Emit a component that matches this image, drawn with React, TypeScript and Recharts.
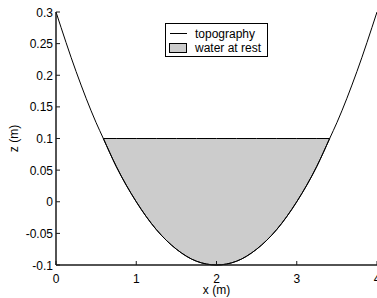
import { ComposedChart, Area, Line, XAxis, YAxis, Legend, Label } from "recharts";

// x positions (m) and bed elevation
const xs = [0, 0.25, 0.5, 0.59, 0.75, 1, 1.25, 1.5, 1.75, 2, 2.25, 2.5, 2.75, 3, 3.25, 3.41, 3.5, 3.75, 4];
const topography = [0.3, 0.206, 0.125, 0.1, 0.056, 0, -0.044, -0.075, -0.094, -0.1, -0.094, -0.075, -0.044, 0, 0.056, 0.1, 0.125, 0.206, 0.3];
const waterLevel = 0.1;
const waterFrom = 0.59;
const waterTo = 3.41;

const xTicks = [0, 1, 2, 3, 4];
const yTicks = [-0.1, -0.05, 0, 0.05, 0.1, 0.15, 0.2, 0.25, 0.3];
const legendItems = ["topography", "water at rest"];

const data = xs.map((x, i) => ({
  x,
  topo: topography[i],
  water: x >= waterFrom && x <= waterTo ? [topography[i], waterLevel] : null,
}));

const FONT = "'Liberation Sans', Arial, Helvetica, sans-serif";
const AXIS = "#1a1a1a";

const BottomTick = ({ x, y, payload }: any) => (
  <g>
    <line x1={x} y1={y} x2={x} y2={y - 4} stroke={AXIS} />
    <text x={x} y={y + 18} textAnchor="middle" fontSize={12} fontFamily={FONT} fill="#000">{payload.value}</text>
  </g>
);
const TopTick = ({ x, y }: any) => <line x1={x} y1={y} x2={x} y2={y + 4} stroke={AXIS} />;
const LeftTick = ({ x, y, payload }: any) => (
  <g>
    <line x1={x} y1={y} x2={x + 4} y2={y} stroke={AXIS} />
    <text x={x - 3} y={y + 4.5} textAnchor="end" fontSize={12} fontFamily={FONT} fill="#000">{String(payload.value)}</text>
  </g>
);
const RightTick = ({ x, y }: any) => <line x1={x} y1={y} x2={x - 4} y2={y} stroke={AXIS} />;

const LegendBox = () => (
  <svg width={104} height={35} style={{ display: "block" }}>
    <rect x={0.5} y={0.5} width={102} height={33} fill="#fff" stroke="#000" />
    <line x1={5} y1={10.5} x2={22} y2={10.5} stroke="#000" />
    <rect x={4.5} y={20.5} width={17} height={9} fill="#cccccc" stroke="#000" />
    <text x={30} y={14.5} fontSize={12} fontFamily={FONT}>{legendItems[0]}</text>
    <text x={30} y={28.5} fontSize={12} fontFamily={FONT}>{legendItems[1]}</text>
  </svg>
);

export default function App() {
  return (
    <div style={{ position: "absolute", left: 0, top: 0, width: 377, height: 298, overflow: "hidden", background: "#fff" }}>
      <ComposedChart width={390} height={298} data={data} margin={{ top: 12, right: 13, bottom: 3, left: 10 }}>
        <XAxis dataKey="x" type="number" domain={[0, 4]} ticks={xTicks} interval={0} tickSize={0} tickMargin={0}
          tick={<BottomTick />} stroke={AXIS} strokeWidth={1.5} height={30}>
          <Label content={({ viewBox }: any) => (
            <text x={viewBox.x + viewBox.width / 2} y={viewBox.y + 29} textAnchor="middle" fontSize={12} fontFamily={FONT}>x (m)</text>
          )} />
        </XAxis>
        <XAxis xAxisId="top" orientation="top" type="number" domain={[0, 4]} ticks={xTicks} interval={0} tickSize={0} tickMargin={0}
          tick={<TopTick />} stroke={AXIS} strokeWidth={1.5} height={0} />
        <YAxis type="number" domain={[-0.1, 0.3]} ticks={yTicks} interval={0} tickSize={0} tickMargin={0}
          tick={<LeftTick />} stroke={AXIS} strokeWidth={1.5} width={46}>
          <Label content={() => (
            <text x={18} y={138.5} transform="rotate(-90 18 138.5)" textAnchor="middle" fontSize={12} fontFamily={FONT}>z (m)</text>
          )} />
        </YAxis>
        <YAxis yAxisId="right" orientation="right" type="number" domain={[-0.1, 0.3]} ticks={yTicks} interval={0} tickSize={0} tickMargin={0}
          tick={<RightTick />} stroke={AXIS} strokeWidth={1.5} width={0} />
        <Area dataKey="water" type="monotone" stroke="#000" strokeWidth={1} fill="#cccccc" fillOpacity={1} isAnimationActive={false} connectNulls={false} />
        <Line dataKey="topo" type="monotone" stroke="#000" strokeWidth={1} dot={false} isAnimationActive={false} />
        <Legend layout="horizontal" verticalAlign="middle" align="center" content={<LegendBox />}
          wrapperStyle={{ position: "absolute", left: 165, top: 23, width: "auto", height: "auto" }} />
      </ComposedChart>
    </div>
  );
}
